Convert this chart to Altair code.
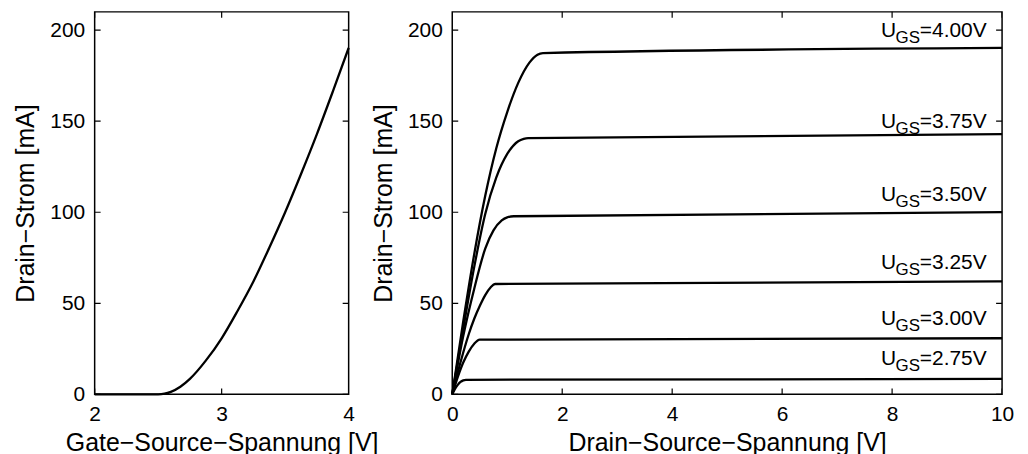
import altair as alt
import pandas as pd

# ---------------- data ----------------
# Left panel: transfer characteristic I_D(U_GS)
vgs = [2.0, 2.5, 2.55, 2.6, 2.675, 2.75, 2.875, 3.0, 3.125, 3.25, 3.375, 3.5,
       3.625, 3.75, 3.875, 4.0]
id_transfer = [0, 0, 0.35, 1.4, 4.2, 8.5, 18.5, 30.8, 45.8, 62, 80.5, 100,
               121, 142.9, 166.2, 190.2]

# Right panel: output characteristics I_D(U_DS) for several U_GS
ugs_labels = ["4.00", "3.75", "3.50", "3.25", "3.00", "2.75"]
vds_400 = [0, 0.2, 0.4, 0.6, 0.8, 1.0, 1.2, 1.4, 1.55, 1.65, 10]
id_400 = [0, 40, 77, 109, 135, 155, 171, 182, 186.5, 187.4, 190.2]
vds_375 = [0, 0.2, 0.4, 0.6, 0.8, 1.0, 1.2, 1.3, 1.38, 10]
id_375 = [0, 36, 70, 99, 119, 132, 139, 140.3, 140.7, 142.9]
vds_350 = [0, 0.2, 0.4, 0.6, 0.75, 0.9, 1.0, 1.12, 10]
id_350 = [0, 32, 58, 80, 90, 95.5, 97.2, 97.8, 100]
vds_325 = [0, 0.1, 0.2, 0.3, 0.4, 0.5, 0.6, 0.7, 0.78, 10]
id_325 = [0, 12, 23, 33, 41.5, 48.5, 54.5, 58.8, 60.6, 62]
vds_300 = [0, 0.1, 0.2, 0.3, 0.4, 0.5, 10]
id_300 = [0, 9.5, 17.5, 23.5, 27.8, 30, 30.8]
vds_275 = [0, 0.05, 0.1, 0.15, 0.2, 0.25, 10]
id_275 = [0, 3, 5.2, 6.8, 7.7, 8.0, 8.5]

label_y = [196, 146, 106, 69, 38, 16]
label_x = 9.72

x_ticks_left = [2, 3, 4]
x_ticks_right = [0, 2, 4, 6, 8, 10]
y_ticks = [0, 50, 100, 150, 200]
y_max = 210

FONT = "Liberation Sans"
TICK_FS = 21
TITLE_FS = 25

# ---------------- build tables ----------------
left_df = pd.DataFrame({"x": vgs, "y": id_transfer, "s": "transfer"})

curves = [(vds_400, id_400), (vds_375, id_375), (vds_350, id_350),
          (vds_325, id_325), (vds_300, id_300), (vds_275, id_275)]
rows = []
for lab, (vx, vy) in zip(ugs_labels, curves):
    for a, b in zip(vx, vy):
        rows.append({"x": a, "y": b, "s": lab})
right_df = pd.DataFrame(rows)

labels_df = pd.DataFrame({
    "x": [label_x] * len(ugs_labels),
    "y": label_y,
    "val": ["=" + v + "V" for v in ugs_labels],
    "u": ["U"] * len(ugs_labels),
    "gs": ["GS"] * len(ugs_labels),
})


def panel(df, xdom, xticks, xtitle, width, annotate=False):
    xscale = alt.Scale(domain=xdom, nice=False, zero=False)
    yscale = alt.Scale(domain=[0, y_max], nice=False)
    xaxis = alt.Axis(tickCount=len(xticks) - 1, title=xtitle, tickSize=0,
                     domain=False, grid=False, labelFlush=False,
                     labelOverlap=False, labelPadding=9, titlePadding=6)
    yaxis = alt.Axis(values=y_ticks, title="Drain\u2212Strom [mA]", tickSize=0,
                     domain=False, grid=False, labelFlush=False,
                     labelOverlap=False, labelPadding=10, titlePadding=11,
                     format="d")
    X = alt.X("x:Q", scale=xscale, axis=xaxis)
    Y = alt.Y("y:Q", scale=yscale, axis=yaxis)

    lines = alt.Chart(df).mark_line(
        color="black", strokeWidth=2.3, interpolate="monotone"
    ).encode(x=X, y=Y, detail="s:N")

    def ticks(tdf, orient):
        return alt.Chart(tdf).mark_tick(
            orient=orient, size=12, thickness=1.2, color="black",
            opacity=1, clip=True
        ).encode(x=X, y=Y)

    bottom = ticks(pd.DataFrame({"x": xticks, "y": [0] * len(xticks)}), "vertical")
    top = ticks(pd.DataFrame({"x": xticks, "y": [y_max] * len(xticks)}), "vertical")
    left = ticks(pd.DataFrame({"x": [xdom[0]] * len(y_ticks), "y": y_ticks}), "horizontal")
    right = ticks(pd.DataFrame({"x": [xdom[1]] * len(y_ticks), "y": y_ticks}), "horizontal")

    layers = [lines, bottom, top, left, right]

    if annotate:
        base = alt.Chart(labels_df).encode(x=X, y=Y)
        t_val = base.mark_text(align="right", baseline="alphabetic", font=FONT,
                               fontSize=TICK_FS, color="black").encode(text="val:N")
        t_gs = base.mark_text(align="right", baseline="alphabetic", font=FONT,
                              fontSize=17, color="black", dx=-67, dy=6).encode(text="gs:N")
        t_u = base.mark_text(align="right", baseline="alphabetic", font=FONT,
                             fontSize=TICK_FS, color="black", dx=-91).encode(text="u:N")
        layers += [t_val, t_gs, t_u]

    return alt.layer(*layers).properties(width=width, height=384)


left_chart = panel(left_df, [2, 4], x_ticks_left, "Gate\u2212Source\u2212Spannung [V]", 255)
right_chart = panel(right_df, [0, 10], x_ticks_right, "Drain\u2212Source\u2212Spannung [V]", 552,
                    annotate=True)

chart = alt.hconcat(
    left_chart, right_chart, spacing=104, bounds="flush", background="white",
    padding={"left": 5, "top": 2, "right": 5, "bottom": 0}
).configure_view(
    stroke="black", strokeWidth=1.5
).configure_axis(
    labelFont=FONT, titleFont=FONT, labelFontSize=TICK_FS, titleFontSize=TITLE_FS,
    labelColor="black", titleColor="black", titleFontWeight="normal",
    labelOverlap=False, labelFlush=False
)

chart.save("out.html", embed_options={"renderer": "svg", "actions": False})
